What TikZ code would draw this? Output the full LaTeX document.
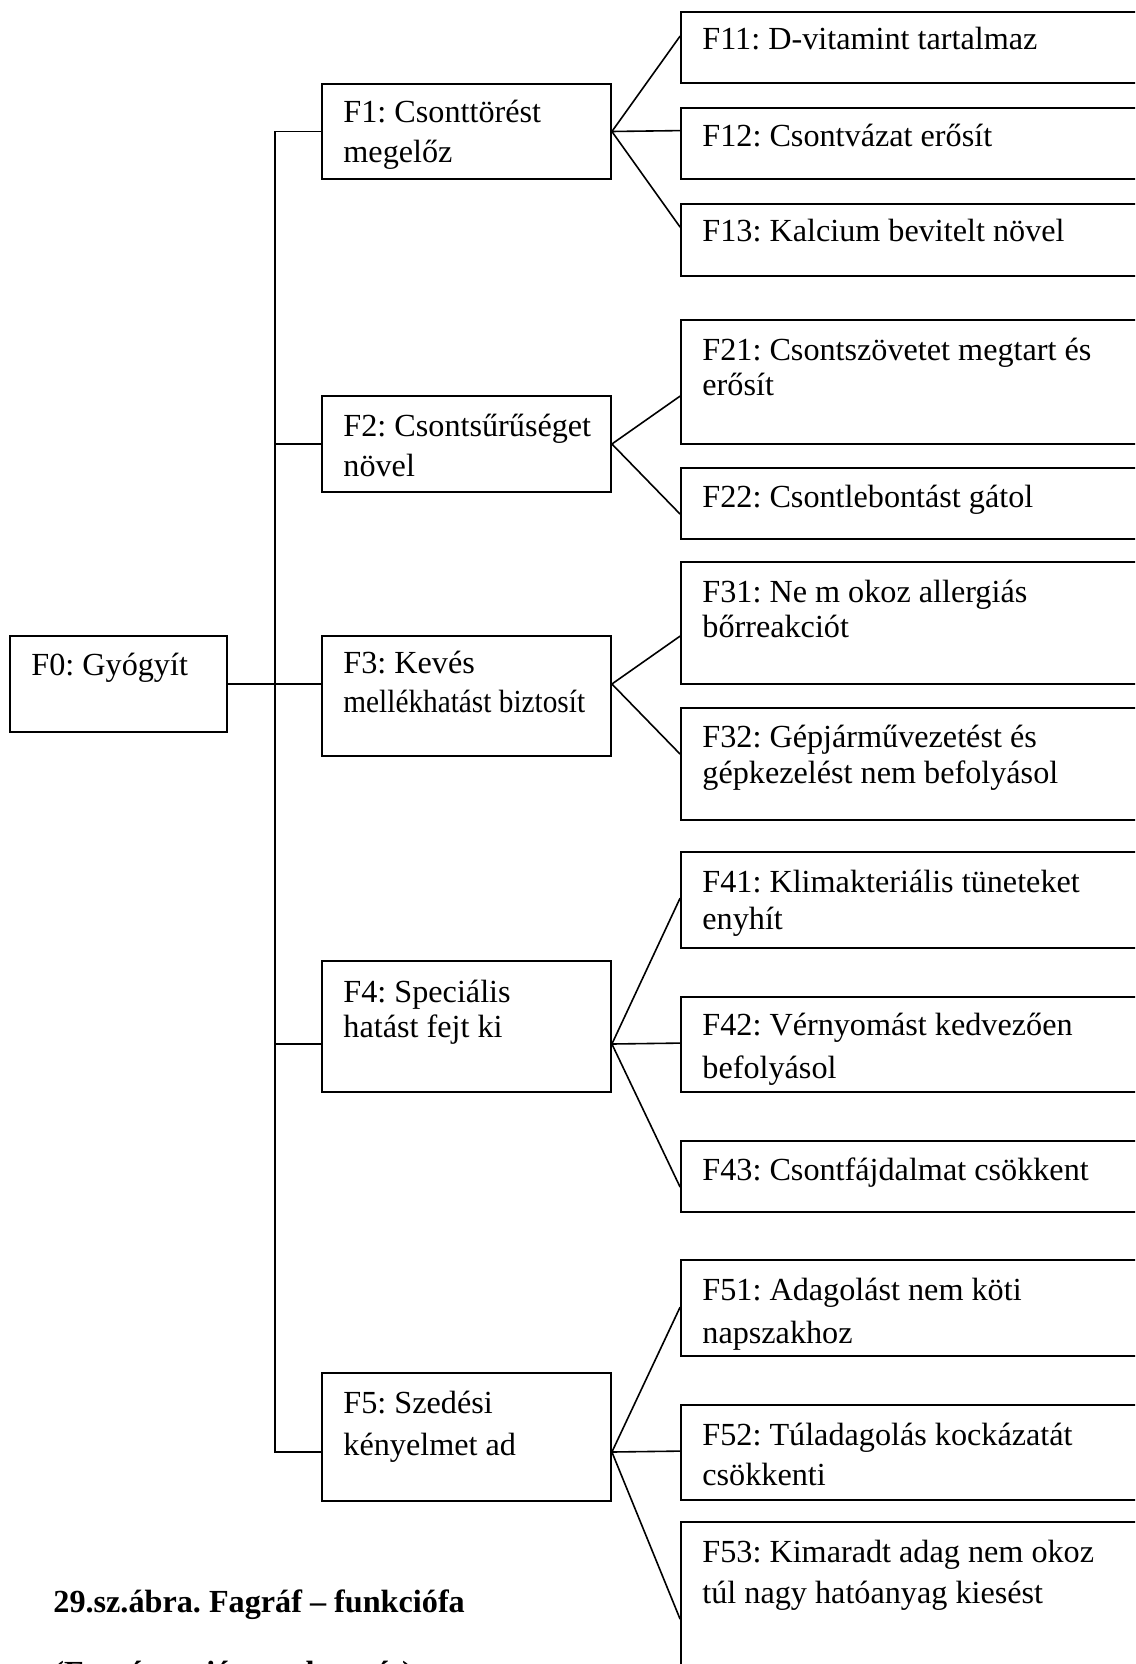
\documentclass[tikz,border=0pt]{standalone}
\usepackage{fontspec}
\setmainfont{Liberation Serif}
\usetikzlibrary{calc}
\frenchspacing
\begin{document}
\begin{tikzpicture}[x=0.5pt,y=-0.5pt,
  fbox/.style={draw, line width=0.9pt, inner sep=0pt},
  midbox/.style={fbox, minimum width=144.5pt},
  leafbox/.style={fbox, minimum width=234.5pt},
  conn/.style={line width=0.8pt},
  txt/.style={anchor=base west, inner sep=0pt, font=\fontsize{16.1}{19}\selectfont},
  captiontxt/.style={anchor=base west, inner sep=0pt, font=\fontsize{16.1}{19}\selectfont\bfseries}]
\fill[white] (0,0) rectangle (1135,1664);
\useasboundingbox (0,0) rectangle (1135,1664);
\clip (0,0) rectangle (1135,1664);

% root
\node[fbox, minimum width=108.5pt, minimum height=48pt] (f0) at (118.5,684) {};
\node[txt] (f0a) at (31,675) {F0: Gyógyít};

% second level
\node[midbox, minimum height=47.5pt] (f1) at (466.5,131.5) {};
\node[midbox, minimum height=48pt]   (f2) at (466.5,444) {};
\node[midbox, minimum height=60pt]   (f3) at (466.5,696) {};
\node[midbox, minimum height=65.5pt] (f4) at (466.5,1026.5) {};
\node[midbox, minimum height=64pt]   (f5) at (466.5,1437) {};

\node[txt] (f1a) at (343,123) {F1: Csonttörést};
\node[txt] (f1b) at (343,163) {megelőz};
\node[txt] (f2a) at (343,436) {F2: Csontsűrűséget};
\node[txt] (f2b) at (343,476) {növel};
\node[txt] (f3a) at (343,673) {F3: Kevés};
\node[txt] (f3b) at (343,712) {\scalebox{0.91}[1]{mellékhatást biztosít}};
\node[txt] (f4a) at (343,1002) {F4: Speciális};
\node[txt] (f4b) at (343,1037) {hatást fejt ki};
\node[txt] (f5a) at (343,1413) {F5: Szedési};
\node[txt] (f5b) at (343,1455) {kényelmet ad};

% leaves
\node[leafbox, minimum height=35.5pt] (f11) at (915.5,47.5) {};
\node[leafbox, minimum height=35.5pt] (f12) at (915.5,143.5) {};
\node[leafbox, minimum height=36pt]   (f13) at (915.5,240) {};
\node[leafbox, minimum height=62pt]   (f21) at (915.5,382) {};
\node[leafbox, minimum height=35.5pt] (f22) at (915.5,503.5) {};
\node[leafbox, minimum height=61pt]   (f31) at (915.5,623) {};
\node[leafbox, minimum height=56pt]   (f32) at (915.5,764) {};
\node[leafbox, minimum height=48pt]   (f41) at (915.5,900) {};
\node[leafbox, minimum height=47.5pt] (f42) at (915.5,1044.5) {};
\node[leafbox, minimum height=35.5pt] (f43) at (915.5,1176.5) {};
\node[leafbox, minimum height=48pt]   (f51) at (915.5,1308) {};
\node[leafbox, minimum height=47.5pt] (f52) at (915.5,1452.5) {};
\node[leafbox, minimum height=89pt]   (f53) at (915.5,1611) {};

\node[txt] (f11a) at (702,50) {F11: D-vitamint tartalmaz};
\node[txt] (f12a) at (702,147) {F12: Csontvázat erősít};
\node[txt] (f13a) at (702,242) {F13: Kalcium bevitelt növel};
\node[txt] (f21a) at (702,360) {F21: Csontszövetet megtart és};
\node[txt] (f21b) at (702,395) {erősít};
\node[txt] (f22a) at (702,507) {F22: Csontlebontást gátol};
\node[txt] (f31a) at (702,602) {F31: Ne m okoz allergiás};
\node[txt] (f31b) at (702,637) {bőrreakciót};
\node[txt] (f32a) at (702,747) {F32: Gépjárművezetést és};
\node[txt] (f32b) at (702,783) {gépkezelést nem befolyásol};
\node[txt] (f41a) at (702,892) {F41: Klimakteriális tüneteket};
\node[txt] (f41b) at (702,929) {enyhít};
\node[txt] (f42a) at (702,1035) {F42: Vérnyomást kedvezően};
\node[txt] (f42b) at (702,1078) {befolyásol};
\node[txt] (f43a) at (702,1180) {F43: Csontfájdalmat csökkent};
\node[txt] (f51a) at (702,1300) {F51: Adagolást nem köti};
\node[txt] (f51b) at (702,1343) {napszakhoz};
\node[txt] (f52a) at (702,1445) {F52: Túladagolás kockázatát};
\node[txt] (f52b) at (702,1485) {csökkenti};
\node[txt] (f53a) at (702,1562) {F53: Kimaradt adag nem okoz};
\node[txt] (f53b) at (702,1603) {túl nagy hatóanyag kiesést};

% caption
\node[captiontxt] (capa) at (53,1612) {29.sz.ábra. Fagráf -- funkciófa};
\node[captiontxt] (capb) at (53,1683) {(Forrás: saját szerkesztés)};

% trunk from the root to the second level
\coordinate (ttop) at (275,131.5);
\coordinate (tbot) at (275,1452);
\coordinate (y4) at (0,1044);
\draw[conn] (f0.east) -- (f3.west |- f0.east);
\draw[conn] (f1.west) -- (ttop) -- (tbot) -- (f5.west |- tbot);
\draw[conn] (ttop |- f2.west) -- (f2.west);
\draw[conn] (ttop |- y4) -- (f4.west |- y4);

% junction points on the right of the second level
\coordinate (j1) at (f1.east);
\coordinate (j2) at (f2.east);
\coordinate (j3) at (f3.east |- f0.east);
\coordinate (j4) at (f4.east |- y4);
\coordinate (j5) at (f5.east |- tbot);

% fan-out to the leaves
\draw[conn] (j1) -- ($(f11.north west)+(0,25)$);
\draw[conn] (j1) -- ($(f12.north west)+(0,23.5)$);
\draw[conn] (j1) -- ($(f13.north west)+(0,24)$);
\draw[conn] (j2) -- ($(f21.north west)+(0,77)$);
\draw[conn] (j2) -- ($(f22.north west)+(0,47)$);
\draw[conn] (j3) -- ($(f31.north west)+(0,75)$);
\draw[conn] (j3) -- ($(f32.north west)+(0,47)$);
\draw[conn] (j4) -- ($(f41.north west)+(0,47)$);
\draw[conn] (j4) -- ($(f42.north west)+(0,47)$);
\draw[conn] (j4) -- ($(f43.north west)+(0,47)$);
\draw[conn] (j5) -- ($(f51.north west)+(0,48)$);
\draw[conn] (j5) -- ($(f52.north west)+(0,47)$);
\draw[conn] (j5) -- ($(f53.north west)+(0,98)$);
\end{tikzpicture}
\end{document}
